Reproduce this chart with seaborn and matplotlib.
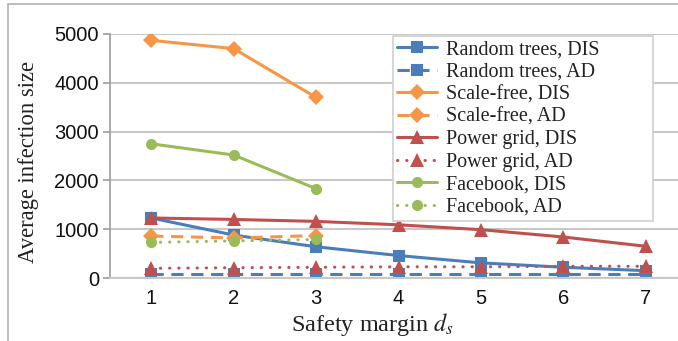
import pandas as pd
import numpy as np
import matplotlib
matplotlib.use("Agg")
import matplotlib.pyplot as plt
from matplotlib.patches import Rectangle
import seaborn as sns

sns.set_theme(style="white")
plt.rcParams['font.family'] = ['Liberation Sans', 'DejaVu Sans']
plt.rcParams['mathtext.fontset'] = 'stix'

# data
margins = [1, 2, 3, 4, 5, 6, 7]
random_dis = [1230, 880, 640, 460, 310, 220, 150]
random_ad = [80, 80, 80, 80, 80, 80, 80]
scalefree_dis = [4870, 4700, 3700]
scalefree_ad = [860, 820, 870]
power_dis = [1230, 1200, 1160, 1090, 990, 840, 650]
power_ad = [200, 210, 220, 230, 230, 240, 240]
facebook_dis = [2750, 2520, 1830]
facebook_ad = [730, 760, 790]

blue = "#4A7EBB"
orange = "#F79646"
red = "#C0504D"
green = "#9BBB59"

dash = (0, (4, 2.5))
dot = (0, (0.1, 2.9))
series = [
    ("Random trees, DIS", random_dis, blue, "s", "-", 8.5),
    ("Random trees, AD", random_ad, blue, "s", dash, 8.5),
    ("Scale-free, DIS", scalefree_dis, orange, "D", "-", 8),
    ("Scale-free, AD", scalefree_ad, orange, "D", dash, 8),
    ("Power grid, DIS", power_dis, red, "^", "-", 9.5),
    ("Power grid, AD", power_ad, red, "^", dot, 9.5),
    ("Facebook, DIS", facebook_dis, green, "o", "-", 8),
    ("Facebook, AD", facebook_ad, green, "o", dot, 8),
]

fig = plt.figure(figsize=(6.78, 3.41), dpi=100)
ax = fig.add_axes([110 / 678, 1 - 278 / 341, 1 - 110 / 678, (278 - 34) / 341])

for label, vals, col, mk, ls, sz in series:
    d = pd.DataFrame({"x": margins[:len(vals)], "y": vals})
    sns.lineplot(data=d, x="x", y="y", ax=ax, color=col, marker=mk,
                 markersize=sz, markeredgewidth=0, linewidth=2.2,
                 label=label)
    l = ax.get_lines()[-1]
    l.set_linestyle(ls)
    if ls is dot:
        l.set_dash_capstyle("round")

ax.set_xlim(0.5, 7.39)
ax.set_ylim(0, 5000)
ax.set_xticks(margins)
ax.set_yticks([0, 1000, 2000, 3000, 4000, 5000])
ax.yaxis.grid(True, color="#C8C8C8", linewidth=1.5)
ax.set_axisbelow(True)
for s in ["top", "right"]:
    ax.spines[s].set_visible(False)
ax.spines["left"].set_color("#A0A0A0")
ax.spines["bottom"].set_color("#C8C8C8")
ax.spines["bottom"].set_linewidth(1.5)
ax.tick_params(axis="y", length=5, color="#A0A0A0", labelsize=14.5, pad=3, left=True)
ax.tick_params(axis="x", length=0, labelsize=14.5, pad=8)
for t in ax.get_xticklabels() + ax.get_yticklabels():
    t.set_color("#111111")

ax.set_xlabel("Safety margin $d_s$", family="Liberation Serif", fontsize=17.5,
              color="#222222")
ax.set_ylabel("Average infection size", family="Liberation Serif", fontsize=16.3,
              color="#222222")
ax.xaxis.set_label_coords(0.463, -0.135)
ax.yaxis.set_label_coords(-0.125, 0.475)

leg = ax.legend(loc="upper left", bbox_to_anchor=(0.498, 0.992, 0.458, 0.0),
                mode="expand", frameon=True,
                fancybox=False, edgecolor="#D0D0D0", framealpha=1,
                prop={"family": "Liberation Serif", "size": 14.5},
                labelspacing=0.17, handlelength=2.0, borderpad=0.2,
                handletextpad=0.45, borderaxespad=0.0)
leg.get_frame().set_linewidth(1.2)
for t in leg.get_texts():
    t.set_color("#222222")

fig.patches.append(Rectangle((8 / 678, -0.1), 1.2, 1.1 - 4 / 341,
                             transform=fig.transFigure, fill=False,
                             edgecolor="#B0B0B0", linewidth=1.2))

fig.savefig("out.png", dpi=100)
